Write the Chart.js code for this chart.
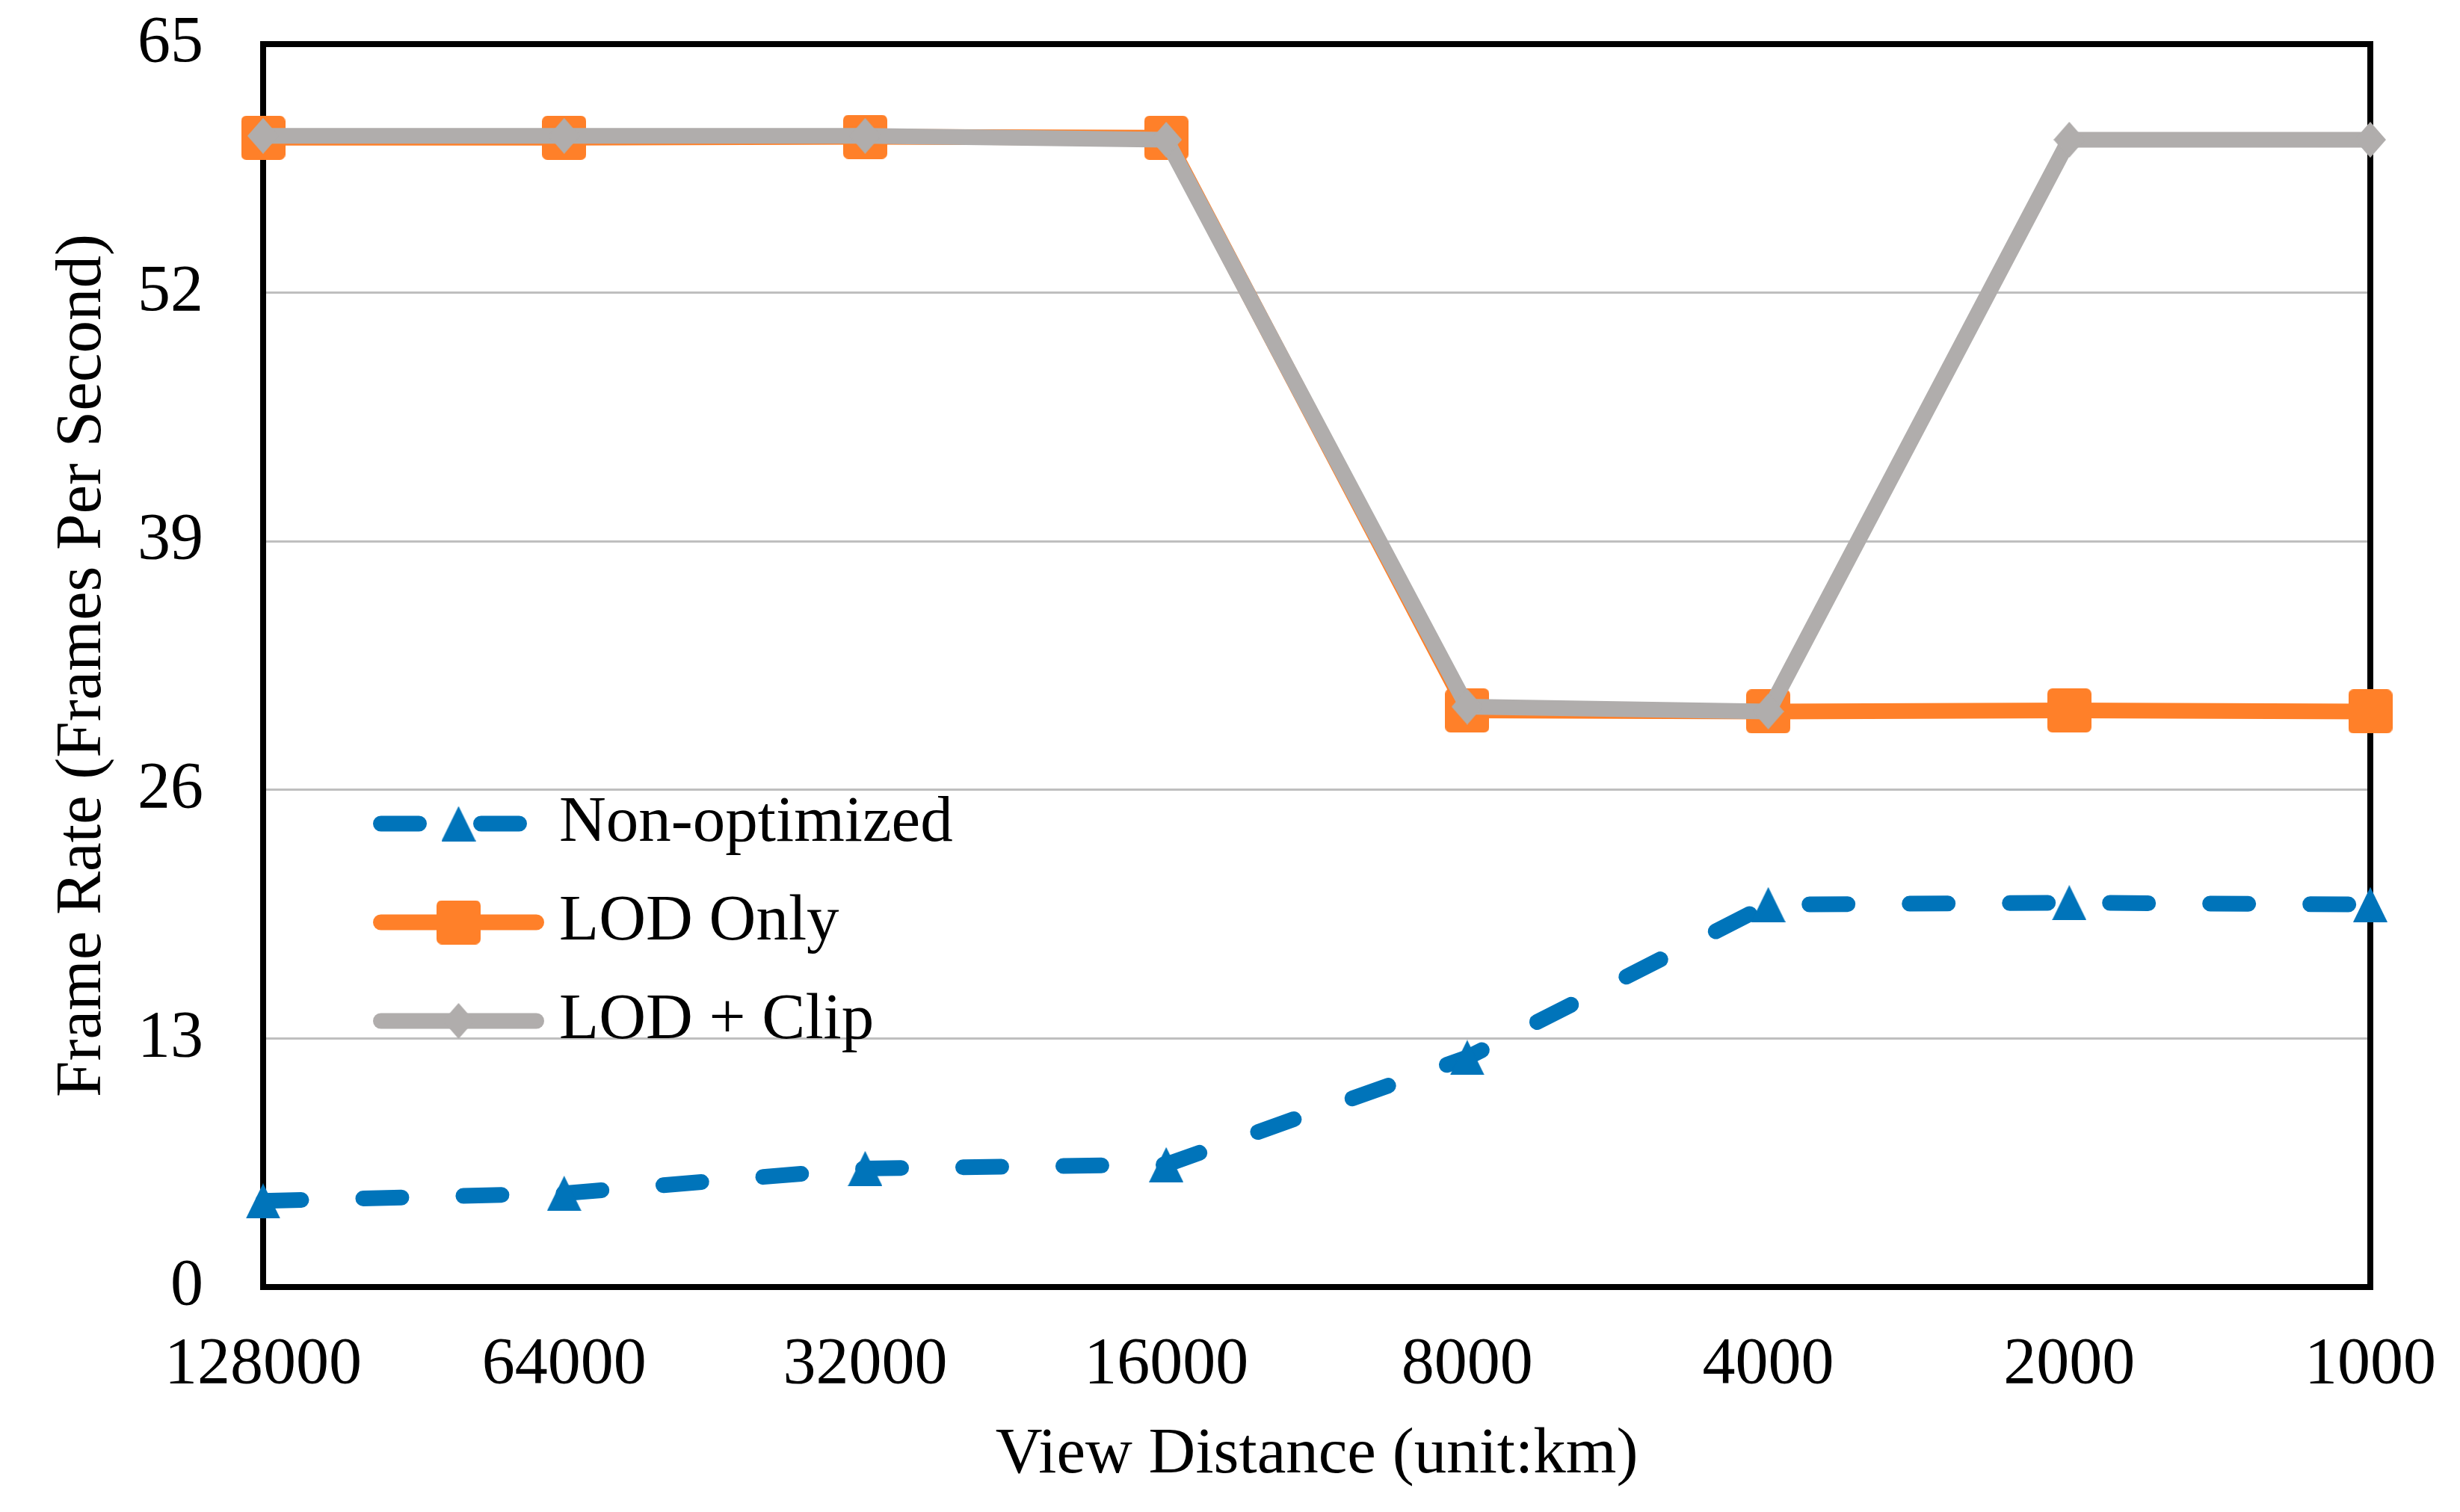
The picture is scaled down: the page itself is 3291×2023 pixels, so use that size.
<!DOCTYPE html>
<html>
<head>
<meta charset="utf-8">
<script src="https://cdn.jsdelivr.net/npm/chart.js@4.4.0/dist/chart.umd.min.js"></script>
<style>
html,body{margin:0;padding:0;background:#fff}
#wrap{width:3291px;height:2023px;position:relative}
</style>
</head>
<body>
<div id="wrap"><canvas id="c"></canvas></div>
<script>
// view distances (km), left to right
const distances = ['128000', '64000', '32000', '16000', '8000', '4000', '2000', '1000'];
// frame rates
const nonOptimized = [4.5, 4.9, 6.2, 6.4, 12.0, 20.0, 20.1, 20.0];
const lodOnly = [60.1, 60.1, 60.15, 60.1, 30.15, 30.1, 30.15, 30.1];
const lodClip = [60.2, 60.2, 60.2, 60.0, 30.35, 30.1, 60.0, 60.0];
const seriesNames = ['Non-optimized', 'LOD Only', 'LOD + Clip'];
const yTicks = [0, 13, 26, 39, 52, 65];

const FONT = "'Liberation Serif', 'Times New Roman', serif";
const FS = 87;
const BLUE = '#0074BA', ORANGE = '#FF8029', GREY = '#B0ADAC';

Chart.defaults.font.family = FONT;
Chart.defaults.font.size = FS;
Chart.defaults.color = '#000';

// marker pictures, centred on their box like the office markers
function marker(w, h, color, path){
    const cv = document.createElement('canvas');
    cv.width = w; cv.height = h;
    const g = cv.getContext('2d');
    g.fillStyle = color;
    g.beginPath();
    path(g, w, h);
    g.closePath();
    g.fill();
    return cv;
}
const triangleMark = marker(46, 47, BLUE, (g, w, h) => {
    g.moveTo(w / 2, 0); g.lineTo(w, h); g.lineTo(0, h);
});
const squareMark = marker(59, 59, ORANGE, (g, w, h) => {
    const r = 7;
    g.moveTo(r, 0); g.arcTo(w, 0, w, h, r); g.arcTo(w, h, 0, h, r);
    g.arcTo(0, h, 0, 0, r); g.arcTo(0, 0, w, 0, r);
});
const diamondMark = marker(42, 48, GREY, (g, w, h) => {
    g.moveTo(w / 2, 0); g.lineTo(w, h / 2); g.lineTo(w / 2, h); g.lineTo(0, h / 2);
});

// black box round the plot, under the lines
const frame = {
    id: 'frame',
    beforeDatasetsDraw(chart){
        const a = chart.chartArea, ctx = chart.ctx;
        ctx.save();
        ctx.strokeStyle = '#000';
        ctx.lineWidth = 8;
        ctx.strokeRect(a.left, a.top, a.right - a.left, a.bottom - a.top);
        ctx.restore();
    }
};

// legend inside the plot: line with marker, then the name
const insideLegend = {
    id: 'insideLegend',
    afterDatasetsDraw(chart, args, opts){
        const ctx = chart.ctx;
        const drawPoint = Chart.helpers.drawPoint;
        ctx.save();
        opts.order.forEach((di, row) => {
            const ds = chart.data.datasets[di];
            const y = opts.y + row * opts.rowGap;
            const x0 = opts.x, x1 = opts.x + opts.lineLength;
            const cap = ds.borderWidth / 2;
            ctx.beginPath();
            ctx.strokeStyle = ds.borderColor;
            ctx.lineWidth = ds.borderWidth;
            ctx.lineCap = 'round';
            ctx.setLineDash(ds.borderDash || []);
            ctx.moveTo(x0 + cap, y);
            ctx.lineTo(x1 - cap, y);
            ctx.stroke();
            ctx.setLineDash([]);
            drawPoint(ctx, {pointStyle: ds.pointStyle, radius: ds.pointRadius, borderWidth: 0, rotation: 0}, (x0 + x1) / 2, y);
            ctx.fillStyle = '#000';
            ctx.font = FS + 'px ' + FONT;
            ctx.textAlign = 'left';
            ctx.textBaseline = 'middle';
            ctx.fillText(ds.label, x1 + opts.textGap, y);
        });
        ctx.restore();
    }
};

const ctx = document.getElementById('c').getContext('2d');
new Chart(ctx, {
    type: 'line',
    data: {
        labels: distances,
        datasets: [{
            label: seriesNames[0],
            data: nonOptimized,
            borderColor: BLUE,
            borderWidth: 21,
            borderDash: [51, 83],
            borderCapStyle: 'round',
            borderJoinStyle: 'round',
            pointStyle: triangleMark,
            pointRadius: 24,
            pointBorderWidth: 0,
            tension: 0,
            clip: false,
            order: 2
        }, {
            label: seriesNames[1],
            data: lodOnly,
            borderColor: ORANGE,
            borderWidth: 21,
            borderJoinStyle: 'round',
            pointStyle: squareMark,
            pointRadius: 30,
            pointBorderWidth: 0,
            tension: 0,
            clip: false,
            order: 1
        }, {
            label: seriesNames[2],
            data: lodClip,
            borderColor: GREY,
            borderWidth: 21,
            borderJoinStyle: 'round',
            pointStyle: diamondMark,
            pointRadius: 24,
            pointBorderWidth: 0,
            tension: 0,
            clip: false,
            order: 0
        }]
    },
    options: {
        responsive: true,
        maintainAspectRatio: false,
        devicePixelRatio: 1,
        animation: false,
        events: [],
        layout: {padding: {top: 59, right: 120, bottom: 0, left: 0}},
        scales: {
            x: {
                offset: false,
                grid: {display: false, drawTicks: false},
                border: {display: false},
                ticks: {padding: 52, maxRotation: 0, autoSkip: false, font: {size: 88}},
                title: {display: true, text: 'View Distance (unit:km)', padding: {top: 0, bottom: 24}},
                afterFit(s){ s.height = 301; s.paddingLeft = 0; s.paddingRight = 0; }
            },
            y: {
                min: 0,
                max: 65,
                afterBuildTicks(s){ s.ticks = yTicks.map(v => ({value: v})); },
                grid: {color: '#BFBFBF', lineWidth: 3, drawTicks: false},
                border: {display: false},
                ticks: {padding: 80, font: {size: 88}},
                title: {display: true, text: 'Frame Rate (Frames Per Second)', padding: {top: 59, bottom: 0}},
                afterFit(s){ s.width = 352; s.paddingTop = 0; s.paddingBottom = 0; }
            }
        },
        plugins: {
            legend: {display: false},
            tooltip: {enabled: false},
            insideLegend: {order: [0, 1, 2], x: 499, y: 1102, rowGap: 132, lineLength: 229, textGap: 20}
        }
    },
    plugins: [frame, insideLegend]
});
</script>
</body>
</html>
